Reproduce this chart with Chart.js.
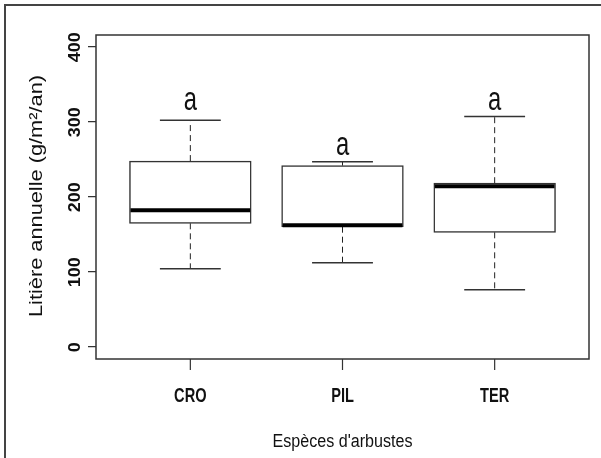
<!DOCTYPE html>
<html>
<head>
<meta charset="utf-8">
<script src="https://cdn.jsdelivr.net/npm/chart.js@4/dist/chart.umd.min.js"></script>
<style>
html,body{margin:0;padding:0;background:#fff;}
canvas{display:block;}
</style>
</head>
<body>
<canvas id="c" width="601" height="458"></canvas>
<script>
// ---- data ----
const categories = ['CRO', 'PIL', 'TER'];
const categoryPos = [1, 2, 3];
const whiskerLow = [104, 112, 76];
const q1 = [164.5, 160, 152.5];
const median = [182, 162, 214];
const q3 = [247.5, 241.5, 218];
const whiskerHigh = [302, 246.5, 307];
const letters = ['a', 'a', 'a'];
const letterY = [315, 256, 315];
const yTicks = [0, 100, 200, 300, 400];
const yTickLabels = ['0', '100', '200', '300', '400'];
const xTitle = "Espèces d'arbustes";
const yTitle = 'Litière annuelle (g/m²/an)';

const FONT = '"Liberation Sans", Arial, sans-serif';

function fitText(ctx, text, x, y, font, opts) {
  ctx.save();
  ctx.font = font;
  ctx.fillStyle = opts.color || '#111';
  ctx.textBaseline = 'alphabetic';
  ctx.textAlign = 'center';
  ctx.translate(x, y);
  if (opts.rotate) ctx.rotate(-Math.PI / 2);
  const w = ctx.measureText(text).width;
  const sx = opts.width ? opts.width / w : (opts.sx || 1);
  ctx.scale(sx, opts.sy || 1);
  ctx.fillText(text, 0, 0);
  ctx.restore();
}

const boxPlugin = {
  id: 'boxPlugin',
  afterDatasetsDraw(chart) {
    const ctx = chart.ctx;
    const xs = chart.scales.x, ys = chart.scales.y;
    ctx.save();
    for (let i = 0; i < categories.length; i++) {
      const cx = xs.getPixelForValue(categoryPos[i]);
      const capL = xs.getPixelForValue(categoryPos[i] - 0.2);
      const capR = xs.getPixelForValue(categoryPos[i] + 0.2);
      const boxL = xs.getPixelForValue(categoryPos[i] - 0.4);
      const boxR = xs.getPixelForValue(categoryPos[i] + 0.4);
      // dashed whiskers
      ctx.strokeStyle = '#222';
      ctx.lineWidth = 1;
      ctx.setLineDash([6, 4]);
      ctx.beginPath();
      ctx.moveTo(cx, ys.getPixelForValue(q3[i]));
      ctx.lineTo(cx, ys.getPixelForValue(whiskerHigh[i]));
      ctx.moveTo(cx, ys.getPixelForValue(q1[i]));
      ctx.lineTo(cx, ys.getPixelForValue(whiskerLow[i]));
      ctx.stroke();
      ctx.setLineDash([]);
      // caps
      ctx.strokeStyle = '#333';
      ctx.lineWidth = 1.5;
      ctx.beginPath();
      ctx.moveTo(capL, ys.getPixelForValue(whiskerHigh[i]));
      ctx.lineTo(capR, ys.getPixelForValue(whiskerHigh[i]));
      ctx.moveTo(capL, ys.getPixelForValue(whiskerLow[i]));
      ctx.lineTo(capR, ys.getPixelForValue(whiskerLow[i]));
      ctx.stroke();
      // median
      ctx.strokeStyle = '#000';
      ctx.lineWidth = 4;
      ctx.beginPath();
      ctx.moveTo(boxL + 1, ys.getPixelForValue(median[i]));
      ctx.lineTo(boxR - 1, ys.getPixelForValue(median[i]));
      ctx.stroke();
    }
    ctx.restore();
  },
  afterDraw(chart) {
    const ctx = chart.ctx;
    const xs = chart.scales.x, ys = chart.scales.y;
    const a = chart.chartArea;
    ctx.save();
    // outer frame (top and left)
    ctx.strokeStyle = '#444';
    ctx.lineWidth = 2;
    ctx.beginPath();
    ctx.moveTo(5, 458);
    ctx.lineTo(5, 5);
    ctx.lineTo(601, 5);
    ctx.stroke();
    // plot box
    ctx.strokeStyle = '#333';
    ctx.lineWidth = 1.5;
    ctx.strokeRect(a.left, a.top, a.right - a.left, a.bottom - a.top);
    // y ticks
    ctx.lineWidth = 1.2;
    ctx.beginPath();
    yTicks.forEach(v => {
      const py = ys.getPixelForValue(v);
      ctx.moveTo(a.left - 8, py);
      ctx.lineTo(a.left, py);
    });
    // x ticks
    categoryPos.forEach(p => {
      const px = xs.getPixelForValue(p);
      ctx.moveTo(px, a.bottom);
      ctx.lineTo(px, a.bottom + 11);
    });
    ctx.stroke();
    ctx.restore();

    // y tick labels (rotated)
    ctx.save();
    ctx.font = 'bold 16px ' + FONT;
    const sY = 30 / ctx.measureText('400').width;
    ctx.restore();
    yTicks.forEach((v, i) => {
      const py = ys.getPixelForValue(v) + 0.5;
      fitText(ctx, yTickLabels[i], 80, py, 'bold 16px ' + FONT, { rotate: true, sx: sY, color: '#111' });
    });
    // x tick labels
    categories.forEach((c, i) => {
      const px = xs.getPixelForValue(categoryPos[i]);
      fitText(ctx, c, px, 401.7, 'bold 20px ' + FONT, { sx: 0.73, color: '#111' });
    });
    // letters
    letters.forEach((l, i) => {
      const px = xs.getPixelForValue(categoryPos[i]);
      fitText(ctx, l, px, ys.getPixelForValue(letterY[i]), '33px ' + FONT, { sx: 0.72, color: '#111' });
    });
    // axis titles
    fitText(ctx, xTitle, (a.left + a.right) / 2, 447, '18px ' + FONT, { width: 140, color: '#111' });
    fitText(ctx, yTitle, 41.7, 196, '19px ' + FONT, { rotate: true, width: 242, color: '#111' });
  }
};

new Chart(document.getElementById('c'), {
  type: 'bar',
  data: {
    datasets: [{
      data: categoryPos.map((p, i) => ({ x: p, y: [q1[i], q3[i]] })),
      backgroundColor: '#ffffff',
      borderColor: '#333',
      borderWidth: 1.5,
      borderSkipped: false,
      barThickness: 'flex',
      barPercentage: 1,
      categoryPercentage: 0.8
    }]
  },
  options: {
    responsive: false,
    devicePixelRatio: 1,
    animation: false,
    layout: { padding: { left: 96, top: 35, right: 12, bottom: 99 } },
    plugins: { legend: { display: false }, tooltip: { enabled: false } },
    scales: {
      x: { type: 'linear', min: 0.38, max: 3.62, offset: false, display: false },
      y: { type: 'linear', min: -16.4, max: 415.6, display: false }
    }
  },
  plugins: [boxPlugin]
});
</script>
</body>
</html>
